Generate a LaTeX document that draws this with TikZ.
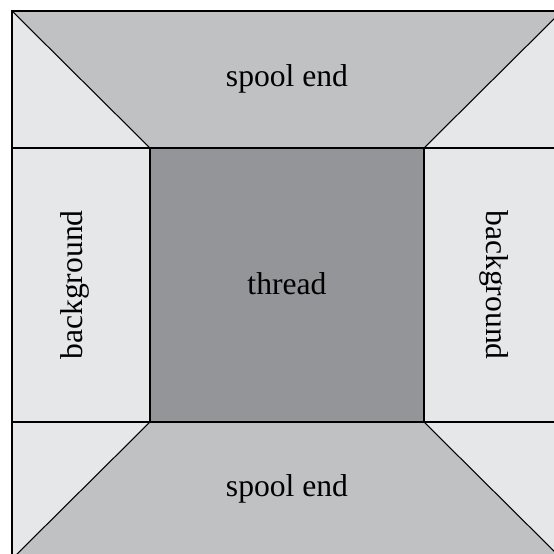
\documentclass[tikz,border=0pt]{standalone}
\usepackage{tikz}
\usepackage{fontspec}
\setmainfont{Liberation Serif}
\usetikzlibrary{positioning}
\definecolor{bgpiece}{RGB}{230,231,232}
\definecolor{spoolpiece}{RGB}{192,193,195}
\definecolor{threadpiece}{RGB}{147,149,152}

\begin{document}
\begin{tikzpicture}[scale=0.02,
    seam/.style={black, line width=0.6pt},
    piecelabel/.style={inner sep=0pt, font=\fontsize{18}{21}\selectfont}]
                    \useasboundingbox (0,0) rectangle (554,-554);
                    \clip (0,0) rectangle (554,-554);
                    % fills
                    \fill [bgpiece] (12,-11) rectangle (562,-559);
                    \fill [spoolpiece] (12,-11) -- (562,-11) -- (424,-148) -- (150,-148) -- cycle;
                    \fill [spoolpiece] (12,-559) -- (562,-559) -- (424,-422) -- (150,-422) -- cycle;
                    \fill [threadpiece] (150,-148) rectangle (424,-422);
                    % seams
                    \draw [seam] (12,-148) -- (562,-148);
                    \draw [seam] (12,-422) -- (562,-422);
                    \draw [seam] (150,-148) -- (150,-422);
                    \draw [seam] (424,-148) -- (424,-422);
                    \draw [seam] (12,-11) -- (150,-148);
                    \draw [seam] (562,-11) -- (424,-148);
                    \draw [seam] (12,-559) -- (150,-422);
                    \draw [seam] (562,-559) -- (424,-422);
                    \draw [black, line width=0.9pt] (12,-11) rectangle (562,-559);
                    % labels
                    \node [piecelabel] (topend) at (287,-79) {spool end};
                    \node [piecelabel] (bottomend) at (287,-489) {spool end};
                    \node [piecelabel] (thread) at (287,-284) {thread};
                    \node [piecelabel, rotate=90] (leftbg) at (75,-285) {background};
                    \node [piecelabel, rotate=-90] (rightbg) at (494,-285) {background};
                \end{tikzpicture}
\end{document}
